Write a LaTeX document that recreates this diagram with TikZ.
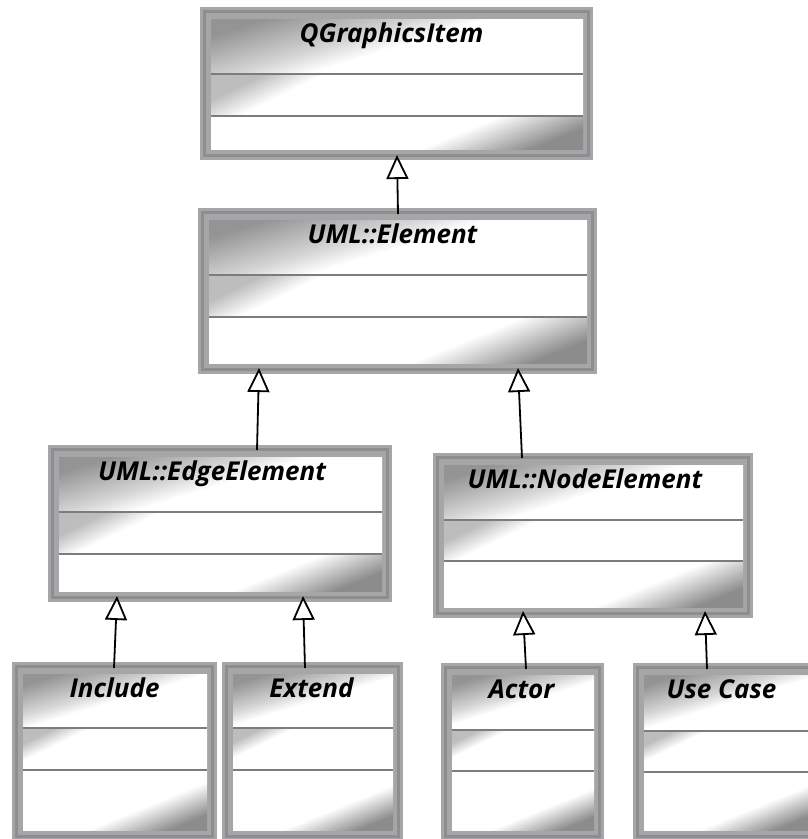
\documentclass[tikz,border=0pt]{standalone}
\usepackage{fontspec}
\newfontfamily\classfont{Open Sans}
\usetikzlibrary{arrows.meta}

\definecolor{framegray}{HTML}{A6A6A8}
\definecolor{framedark}{HTML}{8E8E90}
\definecolor{sepgray}{HTML}{7C7C7C}

% glossy fills of the three compartments
\pgfdeclareverticalshading{hdrshade}{100bp}{color(0bp)=(white); color(50bp)=(white); color(58bp)=(black!16); color(75bp)=(black!42); color(100bp)=(black!42)}
\pgfdeclareverticalshading{midshade}{100bp}{color(0bp)=(white); color(67bp)=(white); color(76bp)=(black!26); color(100bp)=(black!26)}
\pgfdeclareverticalshading{botshade}{100bp}{color(0bp)=(black!45); color(25bp)=(black!45); color(41bp)=(white); color(100bp)=(white)}

\tikzset{
  classtitle/.style={font=\classfont\bfseries\itshape\fontsize{26}{30}\selectfont, anchor=base, inner sep=0pt},
  classframe/.style={inner sep=0pt, outer sep=0pt, anchor=north west, fill=framegray},
  gen/.style={draw=black, line width=1.8pt,
    -{Triangle[open, length=24pt, width=22pt, line width=1.8pt, fill=white]}},
}

% #1 name, #2 left, #3 top, #4 right, #5 bottom,
% #6 first divider, #7 second divider, #8 class name, #9 title shift
\newcommand\umlclass[9]{%
  \pgfmathsetmacro\clsw{#4-#2}\pgfmathsetmacro\clsh{#5-#3}%
  \node[classframe, minimum width=\clsw pt, minimum height=\clsh pt] (#1) at (#2,#3) {};
  \draw[framedark, line width=3pt] (#2+4.5,#3+4.5) rectangle (#4-4.5,#5-4.5);
  \shade[shading=hdrshade, shading angle=17] (#2+11,#3+12) rectangle (#4-10,#6);
  \shade[shading=midshade, shading angle=26] (#2+11,#6) rectangle (#4-10,#7);
  \shade[shading=botshade, shading angle=22] (#2+11,#7) rectangle (#4-10,#5-11);
  \draw[sepgray, line width=2pt] (#2+11,#6) -- (#4-10,#6) (#2+11,#7) -- (#4-10,#7);
  \node[classtitle] at ({(#2+#4)/2+#9},#3+35) {#8};
}

\begin{document}
\begin{tikzpicture}[x=1pt, y=-1pt]
\useasboundingbox (0,0) rectangle (807,839);

\umlclass{qgi}{200}{7}{593}{160}{74}{116}{QGraphicsItem}{-5}
\umlclass{elem}{198}{208}{597}{374}{275}{317}{UML::Element}{-5}
\umlclass{edge}{48}{445}{392}{602}{512}{554}{UML::EdgeElement}{-8}
\umlclass{nodeel}{433}{453}{753}{618}{520}{561}{UML::NodeElement}{-8}
\umlclass{incl}{12}{662}{217}{841}{728}{770}{Include}{0}
\umlclass{ext}{222}{662}{403}{841}{728}{770}{Extend}{-1}
\umlclass{actor}{441}{663}{604}{841}{730}{771}{Actor}{-1}
\umlclass{usecase}{633}{663}{820}{841}{731}{772}{Use Case}{-5}

% generalisations
\draw[gen] ([xshift=0.5pt,yshift=-6pt]elem.north) -- ([xshift=0.5pt,yshift=5pt]qgi.south);
\draw[gen] ([xshift=37pt,yshift=-5pt]edge.north) -- ([xshift=-138.5pt,yshift=6pt]elem.south);
\draw[gen] ([xshift=-71pt,yshift=-5pt]nodeel.north) -- ([xshift=120.5pt,yshift=6pt]elem.south);
\draw[gen] ([xshift=-0.5pt,yshift=-6pt]incl.north) -- ([xshift=-103pt,yshift=6pt]edge.south);
\draw[gen] ([xshift=-7.5pt,yshift=-6pt]ext.north) -- ([xshift=83pt,yshift=6pt]edge.south);
\draw[gen] ([xshift=3.5pt,yshift=-6pt]actor.north) -- ([xshift=-70pt,yshift=7pt]nodeel.south);
\draw[gen] ([xshift=-19.5pt,yshift=-6pt]usecase.north) -- ([xshift=112pt,yshift=7pt]nodeel.south);
\end{tikzpicture}
\end{document}
